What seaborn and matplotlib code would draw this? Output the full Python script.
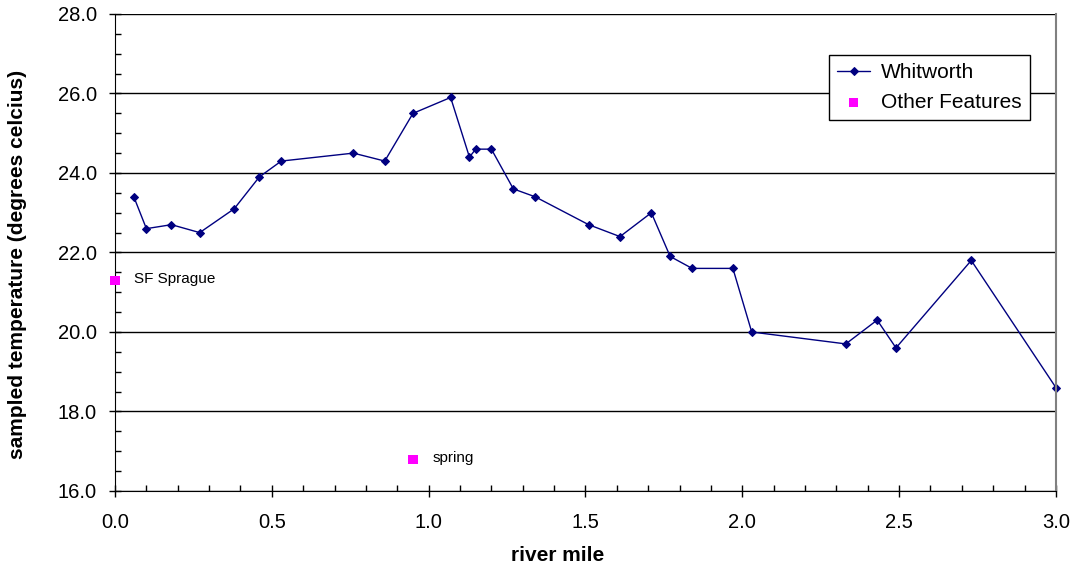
import matplotlib
matplotlib.use('Agg')
import matplotlib.pyplot as plt
import seaborn as sns
import pandas as pd
from matplotlib.ticker import MultipleLocator, FormatStrFormatter

# Whitworth survey
river_mile = [0.06, 0.10, 0.18, 0.27, 0.38, 0.46, 0.53, 0.76, 0.86, 0.95,
              1.07, 1.13, 1.15, 1.20, 1.27, 1.34, 1.51, 1.61, 1.71, 1.77,
              1.84, 1.97, 2.03, 2.33, 2.43, 2.49, 2.73, 3.00]
temperature = [23.4, 22.6, 22.7, 22.5, 23.1, 23.9, 24.3, 24.5, 24.3, 25.5,
               25.9, 24.4, 24.6, 24.6, 23.6, 23.4, 22.7, 22.4, 23.0, 21.9,
               21.6, 21.6, 20.0, 19.7, 20.3, 19.6, 21.8, 18.6]

# other features
feature_names = ['SF Sprague', 'spring']
feature_mile = [0.0, 0.95]
feature_temp = [21.3, 16.8]

whit = pd.DataFrame({'mile': river_mile, 'temp': temperature})
feat = pd.DataFrame({'mile': feature_mile, 'temp': feature_temp, 'name': feature_names})

sns.set_style('white')
plt.rcParams['font.family'] = ['Liberation Sans', 'DejaVu Sans']
plt.rcParams['text.color'] = 'black'
plt.rcParams['axes.labelcolor'] = 'black'
plt.rcParams['xtick.color'] = 'black'
plt.rcParams['ytick.color'] = 'black'

fig = plt.figure(figsize=(10.73, 5.69), dpi=100)
ax = fig.add_axes([0.1072, 0.1371, 0.8769, 0.8383])

sns.lineplot(data=whit, x='mile', y='temp', ax=ax, color='#000080', lw=1,
             marker='D', markersize=4.5, markeredgecolor='#000080',
             label='Whitworth', sort=False, clip_on=False)
sns.scatterplot(data=feat, x='mile', y='temp', ax=ax, color='#FF00FF',
                marker='s', s=45, edgecolor='none', label='Other Features',
                clip_on=False, zorder=5)

for i in range(len(feature_names)):
    ax.annotate(feature_names[i], (feature_mile[i], feature_temp[i]),
                xytext=(14, 1), textcoords='offset points',
                ha='left', va='center', fontsize=11)

ax.set_xlim(0, 3.0)
ax.set_ylim(16, 28)
ax.xaxis.set_major_locator(MultipleLocator(0.5))
ax.xaxis.set_minor_locator(MultipleLocator(0.1))
ax.yaxis.set_major_locator(MultipleLocator(2))
ax.yaxis.set_minor_locator(MultipleLocator(0.5))
ax.xaxis.set_major_formatter(FormatStrFormatter('%.1f'))
ax.yaxis.set_major_formatter(FormatStrFormatter('%.1f'))

ax.grid(axis='y', which='major', color='black', lw=1)
ax.set_axisbelow(True)
ax.tick_params(which='major', direction='inout', length=8, width=1, labelsize=14.5)
ax.tick_params(axis='y', which='major', pad=9)
ax.tick_params(axis='x', which='major', pad=12)
ax.tick_params(which='minor', direction='in', length=4, width=1)
ax.tick_params(axis='x', which='both', bottom=True)
ax.tick_params(axis='y', which='both', left=True)

ax.spines['top'].set_visible(False)
ax.spines['left'].set_color('black')
ax.spines['bottom'].set_color('black')
ax.spines['right'].set_color('#808080')
ax.spines['right'].set_linewidth(1.5)

ax.set_xlabel('river mile', fontsize=15, fontweight='bold')
ax.set_ylabel('sampled temperature (degrees celcius)', fontsize=15, fontweight='bold')
ax.xaxis.set_label_coords(0.47, -0.115)
ax.yaxis.set_label_coords(-0.094, 0.474)

leg = ax.legend(loc='upper right', bbox_to_anchor=(0.972, 0.914), fontsize=15,
                frameon=True, fancybox=False, framealpha=1, edgecolor='black',
                borderpad=0.4, handlelength=1.6, handletextpad=0.5, labelspacing=0.5,
                borderaxespad=0)
leg.get_frame().set_linewidth(1)

fig.savefig('out.png', dpi=100)
